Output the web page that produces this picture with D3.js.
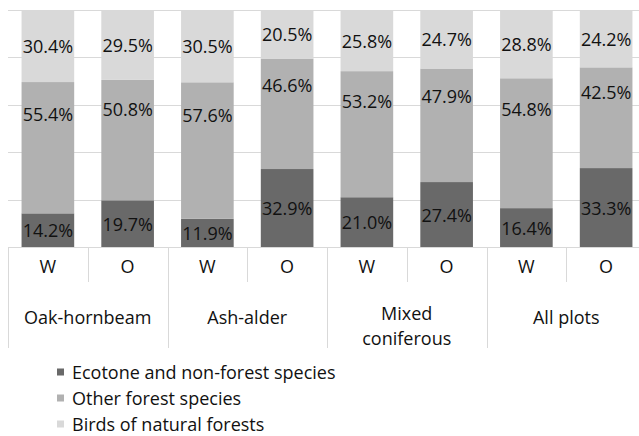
<!DOCTYPE html>
<html>
<head>
<meta charset="utf-8">
<script src="https://cdn.jsdelivr.net/npm/d3@7"></script>
<style>
    body { margin: 0; background: #fff; }
    svg { display: block; font-family: "Open Sans", "Liberation Sans", sans-serif; }
</style>
</head>
<body>
<div id="chart"></div>
<script>
// one bar per (forest type, W/O) pair, left to right
const groups = ['Oak-hornbeam', 'Ash-alder', 'Mixed coniferous', 'All plots'];
const subLabels = ['W', 'O'];
const seriesNames = [
    'Ecotone and non-forest species',
    'Other forest species',
    'Birds of natural forests'
];
const ecotone = [14.2, 19.7, 11.9, 32.9, 21.0, 27.4, 16.4, 33.3];
const otherForest = [55.4, 50.8, 57.6, 46.6, 53.2, 47.9, 54.8, 42.5];
const naturalForest = [30.4, 29.5, 30.5, 20.5, 25.8, 24.7, 28.8, 24.2];
const yTicks = [0, 0.2, 0.4, 0.6, 0.8, 1];

const colors = ['#696969', '#b1b1b1', '#d9d9d9'];
// where each series' label sits inside its segment (0 = bottom, 1 = top)
const labelFrac = [0.5, 0.76, 0.5];

const width = 639, height = 436;
const plot = { left: 8, right: 646, top: 10, bottom: 247 };
const fontSize = '18px';
const textColor = '#111';

const svg = d3.select('#chart').append('svg')
    .attr('width', width)
    .attr('height', height);

// build bar keys and stack
const keys = [];
groups.forEach(function(g, gi) {
    subLabels.forEach(function(s, si) { keys.push(gi * 2 + si); });
});
const rows = keys.map(function(k) {
    return { key: k, s0: ecotone[k] / 100, s1: otherForest[k] / 100, s2: naturalForest[k] / 100 };
});
const stacked = d3.stack().keys(['s0', 's1', 's2'])(rows);

const x = d3.scaleBand()
    .domain(keys)
    .range([plot.left, plot.right])
    .paddingInner(0.34)
    .paddingOuter(0.17);
const xGroup = d3.scaleBand()
    .domain(groups)
    .range([plot.left, plot.right]);
const y = d3.scaleLinear()
    .domain([0, 1])
    .range([plot.bottom, plot.top]);

// gridlines
svg.append('g')
    .selectAll('line')
    .data(yTicks)
    .enter().append('line')
    .attr('x1', plot.left)
    .attr('x2', plot.right)
    .attr('y1', function(d) { return Math.round(y(d)) + 0.5; })
    .attr('y2', function(d) { return Math.round(y(d)) + 0.5; })
    .attr('stroke', '#d9d9d9')
    .attr('stroke-width', 1);

// stacked bars
const layers = svg.append('g')
    .selectAll('g')
    .data(stacked)
    .enter().append('g')
    .attr('fill', function(d, i) { return colors[i]; });

layers.selectAll('rect')
    .data(function(d) { return d; })
    .enter().append('rect')
    .attr('x', function(d) { return x(d.data.key); })
    .attr('width', x.bandwidth())
    .attr('y', function(d) { return y(d[1]); })
    .attr('height', function(d) { return y(d[0]) - y(d[1]); });

// value labels
layers.each(function(layer, li) {
    d3.select(this).selectAll('text')
        .data(layer)
        .enter().append('text')
        .attr('x', function(d) { return x(d.data.key) + x.bandwidth() / 2; })
        .attr('y', function(d) {
            return y(d[0] + (d[1] - d[0]) * labelFrac[li]);
        })
        .attr('text-anchor', 'middle')
        .attr('dominant-baseline', 'central')
        .attr('fill', textColor)
        .attr('font-size', fontSize)
        .text(function(d) { return ((d[1] - d[0]) * 100).toFixed(1) + '%'; });
});

// category axis: baseline, separators and two label rows
const axis = svg.append('g');
axis.append('line')
    .attr('x1', plot.left).attr('x2', plot.right)
    .attr('y1', plot.bottom + 0.5).attr('y2', plot.bottom + 0.5)
    .attr('stroke', '#d9d9d9');

// short ticks between W and O
axis.selectAll('line.sub')
    .data(groups)
    .enter().append('line')
    .attr('class', 'sub')
    .attr('x1', function(d) { return Math.round(xGroup(d) + xGroup.bandwidth() / 2) + 0.5; })
    .attr('x2', function(d) { return Math.round(xGroup(d) + xGroup.bandwidth() / 2) + 0.5; })
    .attr('y1', plot.bottom)
    .attr('y2', plot.bottom + 35)
    .attr('stroke', '#d9d9d9');

// long ticks between groups
axis.selectAll('line.grp')
    .data(groups.concat(['end']))
    .enter().append('line')
    .attr('class', 'grp')
    .attr('x1', function(d, i) { return Math.round(plot.left + i * xGroup.step()) + 0.5; })
    .attr('x2', function(d, i) { return Math.round(plot.left + i * xGroup.step()) + 0.5; })
    .attr('y1', plot.bottom)
    .attr('y2', plot.bottom + 101)
    .attr('stroke', '#d9d9d9');

axis.selectAll('text.sub')
    .data(keys)
    .enter().append('text')
    .attr('class', 'sub')
    .attr('x', function(k) { return x(k) + x.bandwidth() / 2; })
    .attr('y', plot.bottom + 19)
    .attr('text-anchor', 'middle')
    .attr('dominant-baseline', 'central')
    .attr('font-size', fontSize)
    .attr('fill', textColor)
    .text(function(k) { return subLabels[k % 2]; });

// group labels; "Mixed coniferous" wraps onto two lines
groups.forEach(function(g) {
    const words = g === 'Mixed coniferous' ? ['Mixed', 'coniferous'] : [g];
    const top = words.length > 1 ? plot.bottom + 66 : plot.bottom + 70;
    words.forEach(function(w, i) {
        axis.append('text')
            .attr('x', xGroup(g) + xGroup.bandwidth() / 2)
            .attr('y', top + i * 25)
            .attr('text-anchor', 'middle')
            .attr('dominant-baseline', 'central')
            .attr('font-size', fontSize)
            .attr('fill', textColor)
            .text(w);
    });
});

// legend
const legend = svg.append('g')
    .selectAll('g')
    .data(seriesNames)
    .enter().append('g')
    .attr('transform', function(d, i) { return 'translate(57,' + (372 + i * 26) + ')'; });

legend.append('rect')
    .attr('x', 0).attr('y', -3.5)
    .attr('width', 7).attr('height', 7)
    .attr('fill', function(d, i) { return colors[i]; });

legend.append('text')
    .attr('x', 15)
    .attr('y', 0)
    .attr('dominant-baseline', 'central')
    .attr('font-size', fontSize)
    .attr('fill', textColor)
    .text(function(d) { return d; });
</script>
</body>
</html>
